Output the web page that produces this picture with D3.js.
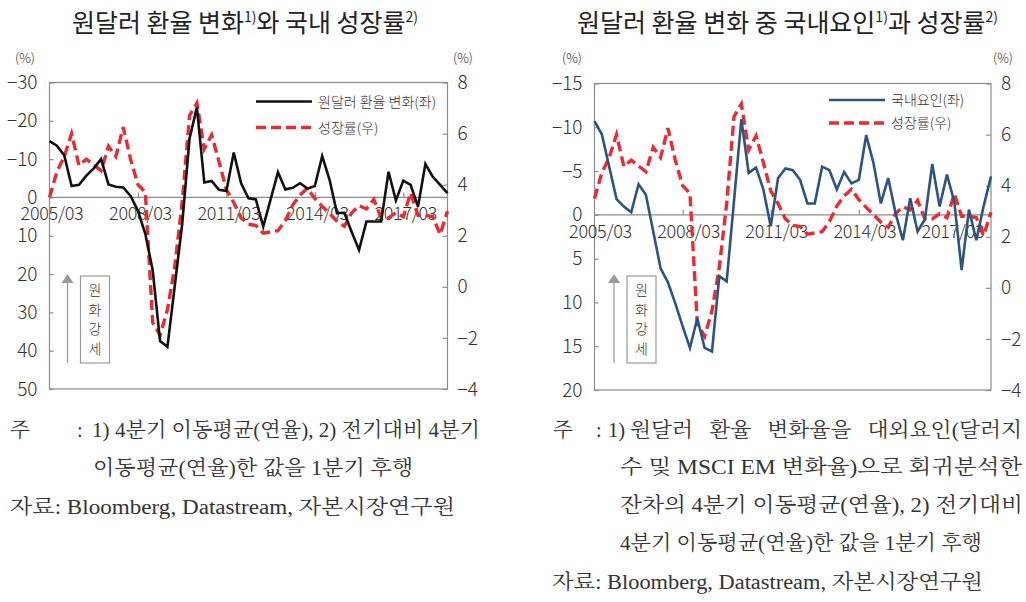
<!DOCTYPE html>
<html><head><meta charset="utf-8">
<script src="https://cdn.jsdelivr.net/npm/d3@7"></script>
<style>
html,body{margin:0;padding:0;background:#fff;}
svg{display:block;}
</style></head>
<body>
<svg id="c" width="1026" height="602"></svg>
<script>
// ---------- data ----------
const quarters = [
 "2005/03","2005/06","2005/09","2005/12","2006/03","2006/06","2006/09","2006/12",
 "2007/03","2007/06","2007/09","2007/12","2008/03","2008/06","2008/09","2008/12",
 "2009/03","2009/06","2009/09","2009/12","2010/03","2010/06","2010/09","2010/12",
 "2011/03","2011/06","2011/09","2011/12","2012/03","2012/06","2012/09","2012/12",
 "2013/03","2013/06","2013/09","2013/12","2014/03","2014/06","2014/09","2014/12",
 "2015/03","2015/06","2015/09","2015/12","2016/03","2016/06","2016/09","2016/12",
 "2017/03","2017/06","2017/09","2017/12","2018/03","2018/06","2018/09"
];
const xTickLabels = ["2005/03","2008/03","2011/03","2014/03","2017/03"];

// 원달러 환율 변화 (좌, %)
const fxChange = [
 -14.7,-13.5,-11.0,-3.0,-3.3,-5.7,-7.6,-10.0,
 -3.4,-2.8,-2.6,-0.4,3.5,9.5,19.0,37.5,
 39.0,23.0,7.0,-15.4,-23.5,-3.9,-4.3,-2.0,
 -1.7,-11.7,-3.7,0.2,0.5,7.6,0.5,-6.6,
 -2.1,-2.5,-3.7,-2.3,-3.0,-10.8,-4.6,4.1,
 4.0,9.0,13.7,6.3,6.3,6.3,-6.7,0.8,
 -4.4,-3.3,2.4,-8.7,-5.4,-3.3,-1.1
];
// 국내요인 (좌, %)
const domesticFactor = [
 -10.7,-9.2,-5.5,-1.8,-0.95,-0.3,-3.5,-2.3,
 1.9,6.1,7.7,10.1,12.7,15.2,11.8,15.2,
 15.6,7.0,7.6,-1.6,-10.9,-4.8,-5.4,-2.9,
 1.3,-4.2,-5.3,-5.1,-4.0,-1.3,-1.3,-5.5,
 -5.1,-2.9,-4.9,-3.6,-4.0,-9.1,-5.9,-1.3,
 -4.2,-0.2,2.9,-1.9,1.9,0.5,-5.8,-0.95,
 -4.6,-1.5,6.3,-0.6,2.9,-1.0,-4.4
];
// 성장률 (우, %)
const growth = [
 3.5,4.5,5.1,6.0,4.75,5.0,4.77,4.55,
 5.5,5.1,6.25,5.0,4.0,3.7,-1.4,-1.9,
 -0.9,0.8,3.3,6.7,7.2,5.4,5.95,4.9,
 3.8,3.3,2.7,2.45,2.4,2.1,2.15,2.2,
 2.6,3.2,3.6,3.86,3.45,3.15,2.87,2.57,
 2.37,2.9,3.18,3.05,3.42,2.7,2.7,2.9,
 2.74,3.68,2.8,2.8,2.75,2.05,2.96
];

const leftTicksA = [-30,-20,-10,0,10,20,30,40,50];
const leftTicksB = [-15,-10,-5,0,5,10,15,20];
const rightTicks = [8,6,4,2,0,-2,-4];

// ---------- style ----------
const SANS = "'Noto Sans CJK KR','Noto Sans',sans-serif";
const SERIF = "'Liberation Serif','Noto Serif CJK KR','Noto Sans CJK KR',serif";
const GRAY = "#8c8c8c";
const RED = "#ec2a2f";
const fmt = d => d < 0 ? "\u2212" + Math.abs(d) : String(d);

const svg = d3.select("#c");

function panel(cfg) {
  const {x0, x1, y0, y1} = cfg.box;
  const g = svg.append("g");
  const x = d3.scalePoint().domain(quarters).range([x0, x1]);
  const yL = d3.scaleLinear().domain(cfg.leftDomain).range([y0, y1]);
  const yR = d3.scaleLinear().domain([-4, 8]).range([y1, y0]);
  const zero = yL(0);

  g.append("rect").attr("x", x0).attr("y", y0).attr("width", x1 - x0).attr("height", y1 - y0)
    .attr("fill", "none").attr("stroke", GRAY).attr("stroke-width", 1.2);
  g.append("line").attr("x1", x0).attr("x2", x1).attr("y1", zero).attr("y2", zero)
    .attr("stroke", GRAY).attr("stroke-width", 1.2);

  const styleAxis = (sel, fs) => {
    sel.select(".domain").remove();
    sel.selectAll("line").attr("stroke", GRAY).attr("stroke-width", 1.2);
    sel.selectAll("text").attr("font-family", SANS).attr("font-weight", 300)
      .attr("font-size", fs).attr("fill", "#333");
  };

  const axL = g.append("g").attr("transform", `translate(${x0},0)`)
    .call(d3.axisLeft(yL).tickValues(cfg.leftTicks).tickFormat(fmt)
      .tickSizeInner(-4).tickSizeOuter(0).tickPadding(12));
  styleAxis(axL, 19);

  const axR = g.append("g").attr("transform", `translate(${x1},0)`)
    .call(d3.axisRight(yR).tickValues(rightTicks).tickFormat(fmt)
      .tickSizeInner(-5).tickSizeOuter(0).tickPadding(10));
  styleAxis(axR, 19);

  const axB = g.append("g").attr("transform", `translate(0,${zero})`)
    .call(d3.axisBottom(x).tickValues(xTickLabels)
      .tickSizeInner(-5).tickSizeOuter(0).tickPadding(10));
  styleAxis(axB, 18);
  axB.selectAll("text").attr("dx", cfg.labelDx).attr("letter-spacing", -0.3);
  axB.selectAll(".tick").filter(d => d === quarters[0]).select("line").remove();

  g.append("text").attr("x", cfg.pctL).attr("y", 63).attr("text-anchor", "middle")
    .attr("font-family", SANS).attr("font-weight", 300).attr("font-size", 13).attr("fill", "#333").text("(%)");
  g.append("text").attr("x", cfg.pctR).attr("y", 63).attr("text-anchor", "middle")
    .attr("font-family", SANS).attr("font-weight", 300).attr("font-size", 13).attr("fill", "#333").text("(%)");

  const lineL = d3.line().x((d, i) => x(quarters[i])).y(d => yL(d));
  const lineR = d3.line().x((d, i) => x(quarters[i])).y(d => yR(d));
  g.append("path").datum(growth).attr("d", lineR).attr("fill", "none")
    .attr("stroke", RED).attr("stroke-width", 3.4).attr("stroke-dasharray", "10,5");
  g.append("path").datum(cfg.series).attr("d", lineL).attr("fill", "none")
    .attr("stroke", cfg.color).attr("stroke-width", 2.6).attr("stroke-linejoin", "miter");

  const lg = cfg.legend;
  g.append("line").attr("x1", lg.x).attr("x2", lg.x + 56).attr("y1", lg.y1).attr("y2", lg.y1)
    .attr("stroke", cfg.color).attr("stroke-width", 2.6);
  g.append("line").attr("x1", lg.x).attr("x2", lg.x + 56).attr("y1", lg.y2).attr("y2", lg.y2)
    .attr("stroke", RED).attr("stroke-width", 3.4).attr("stroke-dasharray", "10,5");
  g.append("text").attr("x", lg.x + 62).attr("y", lg.y1 + 5).attr("font-family", SANS)
    .attr("font-weight", 300).attr("font-size", 14).attr("fill", "#333").text(cfg.legendLabel);
  g.append("text").attr("x", lg.x + 62).attr("y", lg.y2 + 5).attr("font-family", SANS)
    .attr("font-weight", 300).attr("font-size", 14).attr("fill", "#333").text("성장률(우)");

  const ax = cfg.arrowX;
  g.append("line").attr("x1", ax).attr("x2", ax).attr("y1", 363).attr("y2", 282)
    .attr("stroke", "#999").attr("stroke-width", 1.2);
  g.append("path").attr("d", `M${ax - 6},283 L${ax + 6},283 L${ax},274 Z`).attr("fill", "#999");
  g.append("rect").attr("x", ax + 13).attr("y", 276).attr("width", 29).attr("height", 87)
    .attr("fill", "#fff").attr("stroke", "#999").attr("stroke-width", 1.2);
  ["원", "화", "강", "세"].forEach((ch, k) => {
    g.append("text").attr("x", ax + 27.5).attr("y", 295 + k * 19.5).attr("text-anchor", "middle")
      .attr("font-family", SANS).attr("font-weight", 300).attr("font-size", 14).attr("fill", "#333").text(ch);
  });
}

panel({
  box: {x0: 49.5, x1: 447.5, y0: 82.5, y1: 389},
  leftDomain: [-30, 50], leftTicks: leftTicksA,
  series: fxChange, color: "#111", legendLabel: "원달러 환율 변화(좌)",
  legend: {x: 256, y1: 101.5, y2: 127.5},
  pctL: 25, pctR: 463, labelDx: 2, arrowX: 67.5
});
panel({
  box: {x0: 594.5, x1: 991, y0: 83.5, y1: 390},
  leftDomain: [-15, 20], leftTicks: leftTicksB,
  series: domesticFactor, color: "#2d5380", legendLabel: "국내요인(좌)",
  legend: {x: 829, y1: 100, y2: 123},
  pctL: 572, pctR: 1003, labelDx: 5.5, arrowX: 614
});

// ---------- titles ----------
function title(x, len, parts) {
  const t = svg.append("text").attr("x", x).attr("y", 32).attr("font-family", SANS)
    .attr("font-size", 25).attr("fill", "#222")
    .attr("textLength", len).attr("lengthAdjust", "spacingAndGlyphs");
  let raised = false;
  parts.forEach(p => {
    const ts = t.append("tspan").text(p.t);
    if (p.sup) { ts.attr("font-size", 14).attr("dy", -10); raised = true; }
    else if (raised) { ts.attr("dy", 10); raised = false; }
  });
}
title(72, 346, [{t: "원달러 환율 변화"}, {t: "1)", sup: true}, {t: "와 국내 성장률"}, {t: "2)", sup: true}]);
title(577, 421, [{t: "원달러 환율 변화 중 국내요인"}, {t: "1)", sup: true}, {t: "과 성장률"}, {t: "2)", sup: true}]);

// ---------- notes ----------
function note(x, y, txt, len, ws) {
  const t = svg.append("text").attr("x", x).attr("y", y).attr("font-family", SERIF)
    .attr("font-size", 20.5).attr("fill", "#333").text(txt);
  if (ws) t.attr("word-spacing", ws);
  if (len) t.attr("textLength", len).attr("lengthAdjust", "spacingAndGlyphs");
}
note(10, 437, "주");
note(77, 437, ":");
note(92, 437, "1) 4분기 이동평균(연율), 2) 전기대비 4분기", 388);
note(93, 475, "이동평균(연율)한 값을 1분기 후행", 320);
note(10, 514, "자료: Bloomberg, Datastream, 자본시장연구원", 445);

note(553, 437, "주");
note(596, 437, ":");
note(608, 437, "1)");
note(630, 437, "원달러 환율 변화율을 대외요인(달러지", 392, 10);
note(620, 474, "수 및 MSCI EM 변화율)으로 회귀분석한", 402);
note(620, 512, "잔차의 4분기 이동평균(연율), 2) 전기대비", 403);
note(620, 550, "4분기 이동평균(연율)한 값을 1분기 후행", 362);
note(552, 589, "자료: Bloomberg, Datastream, 자본시장연구원", 431);
</script>
</body></html>
